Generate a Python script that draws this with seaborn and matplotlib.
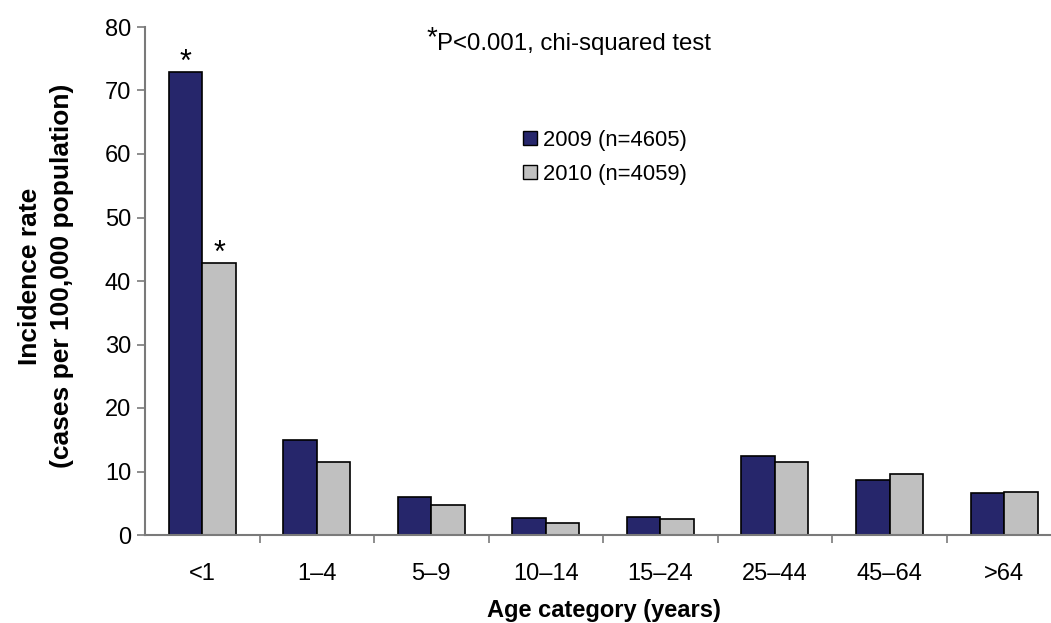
import matplotlib
matplotlib.use("Agg")
import matplotlib.pyplot as plt
from matplotlib.patches import Patch
from matplotlib.ticker import FixedLocator
import numpy as np
import pandas as pd
import seaborn as sns

# Incidence rates by age group
age_groups = ["<1", "1\u20134", "5\u20139", "10\u201314", "15\u201324", "25\u201344", "45\u201364", ">64"]
rate_2009 = [72.9, 14.9, 6.0, 2.7, 2.9, 12.4, 8.7, 6.6]
rate_2010 = [42.8, 11.5, 4.8, 1.9, 2.5, 11.5, 9.6, 6.7]
series_labels = ["2009 (n=4605)", "2010 (n=4059)"]
significant = {("<1", "2009 (n=4605)"), ("<1", "2010 (n=4059)")}

df = pd.DataFrame({
    "age": age_groups * 2,
    "rate": rate_2009 + rate_2010,
    "year": [series_labels[0]] * len(age_groups) + [series_labels[1]] * len(age_groups),
})

sns.set_theme(style="white")
plt.rcParams["font.family"] = ["Liberation Sans", "DejaVu Sans"]
plt.rcParams["text.color"] = "black"
plt.rcParams["axes.labelcolor"] = "black"

colors = ["#26266B", "#C0C0C0"]
axis_grey = "#7A7A7A"

fig = plt.figure(figsize=(10.51, 6.23), dpi=100)
ax = fig.add_axes([145 / 1051, 1 - 535 / 623, (1051 - 145) / 1051, (535 - 27) / 623])

sns.barplot(data=df, x="age", y="rate", hue="year", order=age_groups,
            hue_order=series_labels, palette=colors, width=0.585,
            edgecolor="black", linewidth=1.2, saturation=1, ax=ax, legend=False)

ax.set_ylim(0, 80)
ax.set_xlim(-0.5, 7.41)
ax.set_yticks(np.arange(0, 81, 10))
ax.tick_params(axis="y", which="major", direction="out", length=6, width=1.2,
               color=axis_grey, labelcolor="black", labelsize=17, pad=4, left=True)
ax.tick_params(axis="x", which="major", length=0, labelsize=17, pad=20,
               labelcolor="black")
ax.xaxis.set_minor_locator(FixedLocator(np.arange(0.5, len(age_groups) - 0.5, 1.0)))
ax.tick_params(axis="x", which="minor", direction="out", length=6, width=1.2,
               color=axis_grey, bottom=True)

for side in ["top", "right"]:
    ax.spines[side].set_visible(False)
for side in ["left", "bottom"]:
    ax.spines[side].set_color(axis_grey)
    ax.spines[side].set_linewidth(1.5)

ax.set_xlabel("Age category (years)", fontsize=17, fontweight="bold", color="black")
ax.xaxis.set_label_coords(0.507, -0.126)
ax.set_ylabel("Incidence rate\n(cases per 100,000 population)", fontsize=19,
              fontweight="bold", linespacing=1.45, color="black")
ax.yaxis.set_label_coords(-0.078, 0.51)

# Significance markers above the <1 bars
for container, label in zip(ax.containers, series_labels):
    for bar, age in zip(container.patches, age_groups):
        if (age, label) in significant:
            ax.text(bar.get_x() + bar.get_width() / 2, bar.get_height() + 0.2, "*",
                    ha="center", va="baseline", fontsize=22, color="black")

ax.text(0.311, 0.978, "*", transform=ax.transAxes, fontsize=20, ha="left", va="center",
        color="black")
ax.text(0.322, 0.967, "P<0.001, chi-squared test", transform=ax.transAxes,
        fontsize=17.3, ha="left", va="center", color="black")

handles = [Patch(facecolor=c, edgecolor="black", linewidth=1.0) for c in colors]
leg = ax.legend(handles, series_labels, loc="upper left", bbox_to_anchor=(0.408, 0.815),
                frameon=False, fontsize=15.8, handlelength=0.6, handleheight=0.6,
                handletextpad=0.3, labelspacing=0.6, borderaxespad=0)
for t in leg.get_texts():
    t.set_color("black")

fig.savefig("out.png", dpi=100)
